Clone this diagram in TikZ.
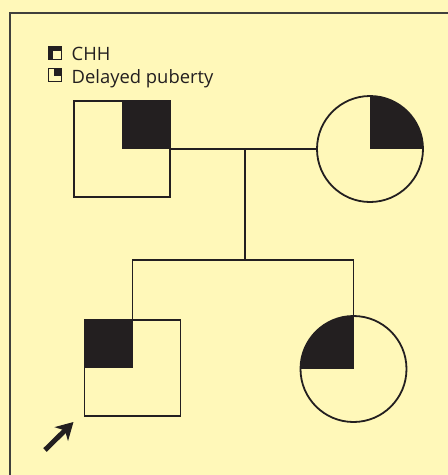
\documentclass[tikz,border=0pt]{standalone}
\usepackage{fontspec}
\setmainfont{Open Sans}
\usetikzlibrary{arrows.meta}
\definecolor{paper}{RGB}{255,248,185}
\definecolor{ink}{RGB}{35,31,32}
\definecolor{framegray}{RGB}{64,64,60}
\tikzset{
  line/.style={draw=ink, line width=1.8pt},
  male/.style={rectangle, draw=ink, line width=1.8pt, minimum size=96pt, inner sep=0pt},
  female/.style={circle, draw=ink, line width=1.8pt, minimum size=106pt, inner sep=0pt},
  fillNE/.style={path picture={\fill[ink] (path picture bounding box.center) rectangle (path picture bounding box.north east);}},
  fillNW/.style={path picture={\fill[ink] (path picture bounding box.center) rectangle (path picture bounding box.north west);}},
  legtext/.style={anchor=base west, inner sep=0pt, font=\fontsize{18.4}{21}\selectfont, text=ink},
  legicon/.style={rectangle, fill=ink, minimum size=14pt, inner sep=0pt},
}
\begin{document}
\begin{tikzpicture}[x=1pt,y=-1pt]
  \useasboundingbox (0,0) rectangle (448,475);
  \fill[paper] (0,0) rectangle (448,475);
  % open frame: top and left edges only
  \draw[framegray, line width=1.3pt] (10,480) -- (10,13) -- (452,13);

  % legend
  \node[legicon] (iconCHH) at (55,53) {};
  \fill[paper] (53.4,51.4) rectangle (60.6,58.6);
  \node[legtext] (txtCHH) at (71.5,60) {CHH};
  \node[legicon] (iconDP) at (55,75) {};
  \fill[paper] (49.4,69.4) rectangle (60.6,80.6);
  \fill[ink] (54.2,69.4) rectangle (60.6,75.6);
  \node[legtext] (txtDP) at (71.5,83.5) {Delayed puberty};

  % parents
  \node[male, fillNE] (father) at (122,149) {};
  \node[female, fillNE] (mother) at (370,149) {};
  % children
  \node[male, fillNW] (son) at (132.5,368) {};
  \node[female, fillNW] (daughter) at (353.5,369) {};

  % connectors
  \coordinate (mate) at (245,149);
  \coordinate (sib) at (245,260);
  \draw[line] (father.east) -- (mother.west);
  \draw[line] (mate) -- (sib);
  \draw[line] (son.north) |- (sib) -| (daughter.north);

  % proband arrow
  \coordinate (ptail) at (45,450);
  \coordinate (ptip) at (73.5,422);
  \draw[ink, line width=5pt, -{Stealth[length=17pt, width=19pt, inset=5pt]}] (ptail) -- (ptip);
\end{tikzpicture}
\end{document}
